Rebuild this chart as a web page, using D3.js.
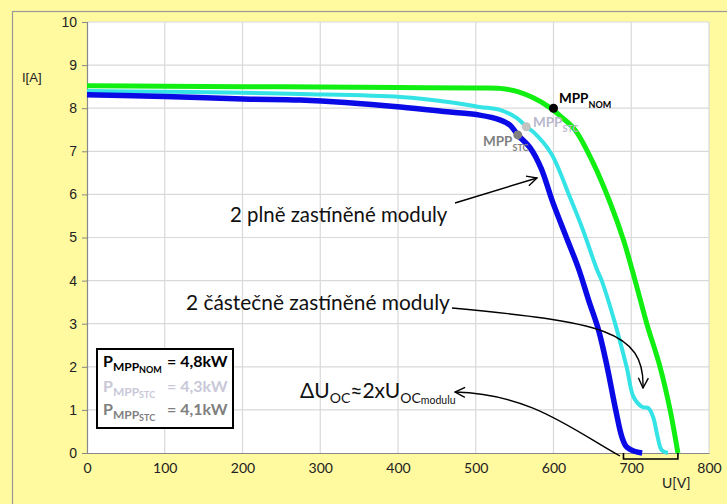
<!DOCTYPE html>
<html><head><meta charset="utf-8">
<script src="https://cdn.jsdelivr.net/npm/d3@7"></script>
<style>body{margin:0;background:#fff9a0;} svg{display:block;}</style>
</head><body>
<svg id="c" width="727" height="504"></svg>
<script>
// ---- data ----
const xTicks = [0,100,200,300,400,500,600,700,800];
const yTicks = [0,1,2,3,4,5,6,7,8,9,10];
// nominal (no shading)
const nomU = [0,100,200,300,400,500,531,555,574,594,610,628,651,673,690,705,720,737,750,760];
const nomI = [8.52,8.51,8.50,8.49,8.48,8.47,8.46,8.38,8.24,8.03,7.80,7.49,6.73,5.80,4.94,4.00,3.00,2.00,1.00,0];
// 2 partially shaded modules
const partU = [0,100,200,274,403,467,505,531,553,565,574,597,621,638,656,662,679,694,703,714,722,728,734,739,747];
const partI = [8.40,8.38,8.36,8.33,8.26,8.14,8.03,7.96,7.77,7.57,7.45,6.95,5.94,5.17,4.25,4.00,3.02,2.00,1.30,1.07,1.04,0.84,0.37,0.07,0];
// 2 fully shaded modules
const fullU = [0,100,210,274,403,467,505,531,544,554,570,584,599,616,632,646,658,669,680,688,694,704,714];
const fullI = [8.31,8.27,8.21,8.19,8.03,7.91,7.84,7.73,7.61,7.38,7.08,6.61,5.82,5.03,4.29,3.50,2.85,2.00,1.00,0.37,0.14,0.04,0];
// MPP points
const mppNames = ["NOM","STC partial","STC full"];
const mppU = [600,565,554];
const mppI = [8.0,7.57,7.38];
// delta Uoc bracket (V)
const bracketU = [690,760];
// legend values
const legendVals = ["= 4,8kW","= 4,3kW","= 4,1kW"];

// ---- layout ----
const svg = d3.select("#c");
const L=87, R=709, T=22, B=453;
const x = d3.scaleLinear().domain([0,800]).range([L,R]);
const y = d3.scaleLinear().domain([0,10]).range([B,T]);

// outer frame
svg.append("rect").attr("x",12.5).attr("y",11.5).attr("width",740).attr("height",520)
  .attr("fill","#fff9a0").attr("stroke","#9a9a9a").attr("stroke-width",1.2);
// plot area
svg.append("rect").attr("x",L).attr("y",T).attr("width",R-L).attr("height",B-T).attr("fill","#fff");

// grid
svg.append("g").selectAll("line").data(xTicks.slice(1)).join("line")
  .attr("x1",d=>x(d)).attr("x2",d=>x(d)).attr("y1",T).attr("y2",B)
  .attr("stroke","#d9d9d9").attr("stroke-width",1.2);
svg.append("g").selectAll("line").data(yTicks.slice(1)).join("line")
  .attr("x1",L).attr("x2",R).attr("y1",d=>y(d)).attr("y2",d=>y(d))
  .attr("stroke","#d9d9d9").attr("stroke-width",1.2);

// axes
const ya = svg.append("g").attr("transform",`translate(${L},0)`)
  .call(d3.axisLeft(y).tickValues(yTicks).tickSize(5).tickPadding(5).tickFormat(d3.format("d")));
ya.select(".domain").attr("stroke","#888").attr("stroke-width",1.2);
ya.selectAll(".tick line").attr("stroke","#888");
ya.selectAll("text").attr("font-family","Liberation Sans, Arial, sans-serif").attr("font-size",14).attr("fill","#222");

const xa = svg.append("g").attr("transform",`translate(0,${B})`)
  .call(d3.axisBottom(x).tickValues(xTicks).tickSize(0).tickPadding(10).tickFormat(d3.format("d")));
xa.select(".domain").attr("stroke","#888").attr("stroke-width",1.2);
xa.selectAll("text").attr("font-family","Lato, Calibri, sans-serif").attr("font-size",14).attr("fill","#222");

svg.append("text").attr("x",22).attr("y",82).text("I[A]")
  .attr("font-family","Liberation Sans, Arial, sans-serif").attr("font-size",13).attr("fill","#222");
svg.append("text").attr("x",662).attr("y",488).text("U[V]")
  .attr("font-family","Lato, Calibri, sans-serif").attr("font-size",14).attr("fill","#222");

// curves
const line = d3.line().x(d=>x(d[0])).y(d=>y(d[1])).curve(d3.curveCatmullRom.alpha(0.5));
function draw(U,I,color,w){
  svg.append("path").datum(U.map((u,i)=>[u,I[i]])).attr("d",line)
    .attr("fill","none").attr("stroke",color).attr("stroke-width",w)
    .attr("stroke-linejoin","round").attr("stroke-linecap","butt");
}
draw(nomU,nomI,"#11ee11",5);
draw(partU,partI,"#33e3e6",4);
draw(fullU,fullI,"#0a0ae6",5.5);

// MPP dots
const dotColors = ["#000","#c3c3c3","#808080"];
svg.append("g").selectAll("circle").data(mppU).join("circle")
  .attr("cx",(d)=>x(d)).attr("cy",(d,i)=>y(mppI[i])).attr("r",4.5)
  .attr("fill",(d,i)=>dotColors[i]);

const F = "Lato, Calibri, sans-serif";
function subLabel(xp, yp, main, sub, color, size, subSize){
  const t = svg.append("text").attr("x",xp).attr("y",yp).attr("font-family",F)
    .attr("font-weight","bold").attr("fill",color).attr("font-size",size);
  t.append("tspan").text(main);
  t.append("tspan").attr("dy",5).attr("font-size",subSize).text(sub);
  return t;
}
subLabel(559,103,"MPP","NOM","#000",13.5,9);
subLabel(533,127,"MPP","STC","#b8b8cc",13.5,9);
subLabel(483,146,"MPP","STC","#7f7f7f",13.5,9);

// annotations
const defs = svg.append("defs");
defs.append("marker").attr("id","ah").attr("viewBox","0 0 12 12").attr("refX",11).attr("refY",6)
  .attr("markerWidth",12).attr("markerHeight",12).attr("markerUnits","userSpaceOnUse").attr("orient","auto")
  .append("path").attr("d","M1,1 L11,6 L1,11").attr("fill","none").attr("stroke","#000").attr("stroke-width",1.4);

svg.append("text").attr("x",230).attr("y",222).attr("font-family",F).attr("font-size",20.4).attr("fill","#111")
  .text("2 plně zastíněné moduly");
svg.append("path").attr("d","M455,203 L537,178").attr("stroke","#000").attr("stroke-width",1.4)
  .attr("fill","none").attr("marker-end","url(#ah)");

svg.append("text").attr("x",186).attr("y",310).attr("font-family",F).attr("font-size",20.9).attr("fill","#111")
  .text("2 částečně zastíněné moduly");
svg.append("path").attr("d","M452,308 C600,322 645,330 643,388").attr("stroke","#000").attr("stroke-width",1.4)
  .attr("fill","none").attr("marker-end","url(#ah)");

const dt = svg.append("text").attr("x",300).attr("y",398).attr("font-family",F).attr("font-size",21).attr("fill","#111");
dt.append("tspan").text("ΔU");
dt.append("tspan").attr("dy",5).attr("font-size",14).text("OC");
dt.append("tspan").attr("dy",-5).text("≈2xU");
dt.append("tspan").attr("dy",5).attr("font-size",14).text("OC");
dt.append("tspan").attr("dy",1).attr("font-size",10.5).text("modulu");
svg.append("path").attr("d","M620,456 C570,428 530,394 455,392").attr("stroke","#000").attr("stroke-width",1.4)
  .attr("fill","none").attr("marker-end","url(#ah)");
// bracket for delta Uoc
svg.append("path").attr("d",`M${x(bracketU[0])},${B} L${x(bracketU[0])},${B+6} L${x(bracketU[1])},${B+6} L${x(bracketU[1])},${B}`)
  .attr("stroke","#000").attr("stroke-width",1.6).attr("fill","none");

// legend box
svg.append("rect").attr("x",97).attr("y",349).attr("width",136).attr("height",79)
  .attr("fill","#fff").attr("stroke","#000").attr("stroke-width",2);
const legColors = ["#000","#c8c8d8","#7f7f7f"];
const legSubs = ["NOM","STC","STC"];
const legY = [367,392,415];
legY.forEach((yy,i)=>{
  const t = svg.append("text").attr("x",103).attr("y",yy).attr("font-family",F).attr("font-weight","bold")
    .attr("fill",legColors[i]).attr("font-size",16);
  t.append("tspan").text("P");
  t.append("tspan").attr("dy",4).attr("font-size",12).text("MPP");
  t.append("tspan").attr("dy",2).attr("font-size",9).text(legSubs[i]);
  svg.append("text").attr("x",167).attr("y",yy).attr("font-family",F).attr("font-weight","bold")
    .attr("fill",legColors[i]).attr("font-size",16).text(legendVals[i]);
});
</script>
</body></html>
